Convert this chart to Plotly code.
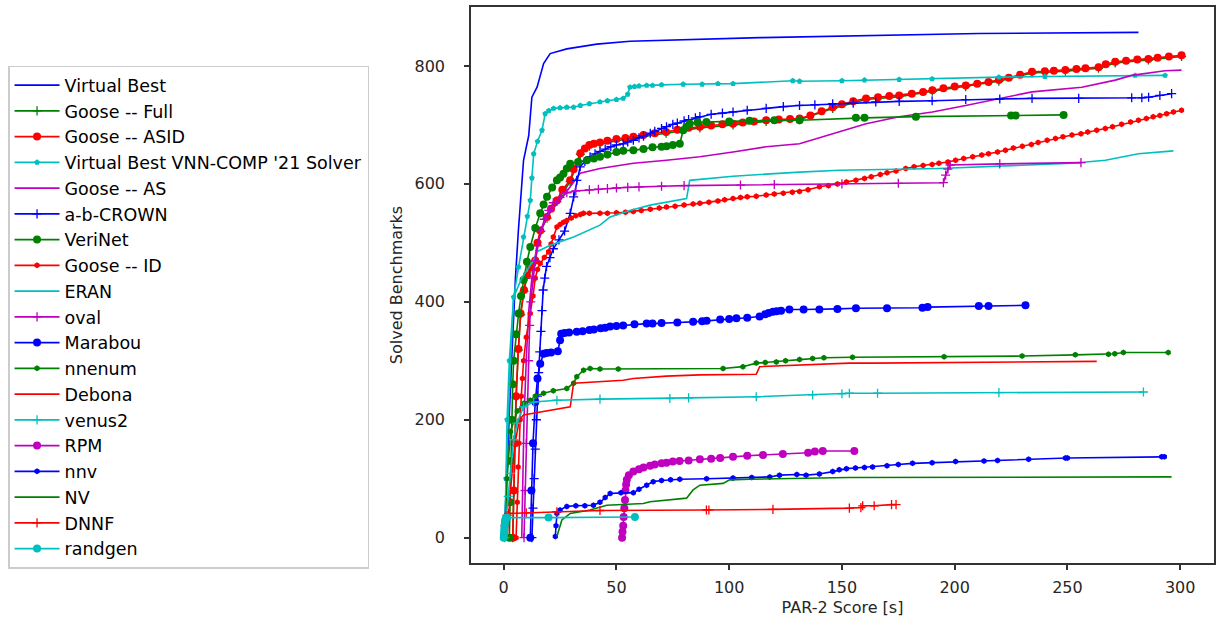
import plotly.graph_objects as go

# ---------------- data ----------------
vb_x = [0.2, 0.8, 1.5, 2.5, 3.5, 4.5, 5.2, 6.5, 7.4, 8.8, 11.1, 12.5, 14.8, 17.7, 20.6, 28.0, 41.3, 56.0, 113.5, 174.0, 210.7, 281.5]
vb_y = [0, 60, 130, 220, 300, 380, 440, 520, 572, 640, 682, 747, 764, 804, 821, 829, 837, 842, 848, 852, 855, 857]

gasid_x = [4, 4.5, 5, 5.5, 6.5, 7.5, 9, 10.3, 12, 14, 15, 16.2, 19.2, 21, 23.6, 26, 29.5, 31, 34, 36, 38, 40, 42.7, 46, 50, 54, 57.5, 62, 67, 72, 77, 82, 87, 92, 97, 101.7, 106, 111, 116.4, 122, 127, 131.2, 136, 141, 145.9, 150, 155, 160.7, 166, 171, 175.4, 181, 186, 190.1, 195, 200, 204.9, 210, 215, 219.6, 224, 229, 234.3, 240, 244, 249.1, 254, 258, 263.8, 267, 271.2, 276, 281, 285.9, 290, 295, 300.6]
gasid_y = [0, 80, 160, 240, 320, 380, 420, 445, 458, 470, 500, 521, 544, 558, 572, 590, 606, 625, 652, 660, 666, 668, 670, 673, 676, 678, 680, 683, 686, 688, 692, 695, 697, 699, 701, 702, 704, 706, 708, 709, 710, 711, 716, 723, 730, 735, 740, 745, 747, 749, 750, 753, 756, 759, 762, 765, 767, 770, 773, 776, 780, 785, 790, 791, 792, 793, 795, 796, 798, 803, 807, 809, 811, 812, 814, 816, 818]

gfull_x = [4, 4.5, 5, 5.5, 6.5, 7.5, 9, 10.3, 12, 14, 16.2, 19.2, 23.6, 29.5, 34, 38, 42.7, 57.5, 72, 87, 101.7, 116.4, 131.2, 145.9, 160.7, 175.4, 190.1, 204.9, 219.6, 234.3, 249.1, 263.8, 271.2, 285.9, 300.6]
gfull_y = [0, 78, 158, 238, 318, 378, 418, 443, 456, 468, 519, 542, 570, 604, 650, 664, 668, 678, 686, 695, 700, 706, 709, 728, 743, 748, 757, 765, 774, 788, 791, 796, 805, 810, 816]

vnn_x = [0.5, 1.0, 1.5, 2.5, 4.4, 6.6, 8.8, 10.5, 11.8, 12.5, 13.3, 15, 17, 18.4, 20, 22.1, 25, 28, 31, 34, 38, 42.7, 46, 50, 53, 55, 56, 58, 60, 63.4, 66, 70, 79.6, 88, 95, 101.7, 128.2, 131.2, 150, 160, 175.4, 190, 219.6, 240, 280, 293.3]
vnn_y = [0, 100, 200, 300, 408, 459, 510, 545, 572, 610, 651, 672, 691, 719, 724, 728, 729, 730, 730, 733, 736, 739, 741, 743, 745, 752, 764, 765, 766, 767, 767, 768, 769, 769, 770, 770, 775, 774, 775, 776, 777, 778, 781, 782, 784, 784]

gas_x = [8, 8.5, 9, 10, 11, 12.5, 14.5, 17, 20, 25, 29.5, 33.9, 42.7, 57.5, 72.2, 87, 101.7, 116.4, 131.2, 145.9, 160.7, 175.4, 190.1, 204.9, 219.6, 234.3, 256.4, 271.2, 278.5, 293.3, 300.6]
gas_y = [0, 100, 200, 300, 380, 440, 490, 525, 550, 572, 595, 618, 626, 635, 640, 646, 654, 663, 668, 685, 702, 714, 722, 733, 745, 756, 764, 776, 784, 792, 793]

abc_x = [12.5, 13.0, 13.5, 14.0, 14.5, 15.0, 15.5, 16.0, 16.5, 17.0, 17.5, 18.2, 19.0, 20.5, 22.0, 24.5, 27.0, 29.5, 31.0, 32.4, 33.9, 36, 38.3, 40.5, 42.7, 45, 47.5, 50, 53, 55, 57.5, 60, 62, 65, 67, 70, 72.2, 75, 77, 80, 82, 85, 87, 92, 97, 101.7, 108, 116.4, 124, 131.2, 138, 145.9, 155, 165, 175.4, 190, 204.9, 220, 234.3, 255, 278.5, 283, 286, 291, 296.2]
abc_y = [0, 50, 100, 150, 200, 240, 280, 315, 350, 385, 420, 440, 460, 475, 490, 505, 520, 550, 578, 606, 629, 638, 646, 651, 655, 659, 663, 666, 668, 671, 674, 678, 681, 686, 689, 694, 697, 701, 703, 707, 709, 712, 714, 718, 720, 722, 725, 728, 731, 733, 734, 736, 737, 739, 740, 741, 743, 744, 745, 745, 746, 746, 747, 750, 753]

verinet_x = [2.5, 2.8, 3.1, 3.5, 4.0, 4.4, 5.5, 6.6, 7.7, 8.8, 10.3, 11.8, 14, 16.2, 17.7, 19.2, 21.5, 23.6, 25, 26.5, 28, 29.5, 33, 36.9, 40, 42.7, 46, 50, 53, 57.5, 62, 66, 70, 72.2, 75, 78.1, 79.6, 81, 82.5, 86, 89.9, 100, 109, 120, 131.2, 156.2, 160, 182.8, 225, 227, 248.3]
verinet_y = [0, 60, 130, 200, 260, 300, 345, 380, 410, 437, 468, 493, 525, 550, 565, 578, 594, 606, 611, 617, 626, 634, 637, 640, 643, 646, 650, 654, 656, 657, 659, 662, 663, 664, 666, 668, 691, 697, 702, 704, 705, 706, 707, 708, 708, 712, 712, 714, 716, 716, 717]

gid_x = [5.5, 6.0, 6.4, 6.8, 7.3, 7.8, 8.3, 8.8, 10, 11.8, 13, 14, 15, 16.2, 18, 19.9, 21, 22, 23.6, 25, 26.5, 28, 30, 32, 34, 35.4, 38, 42.7, 46, 50, 54, 57.5, 61, 65, 69, 72.2, 76, 80, 84, 87, 91, 95, 98, 101.7, 105, 108, 112, 116.4, 120, 124, 128, 131.2, 135, 140, 144, 148, 152, 156.2, 160, 163, 167, 170, 174, 178.3, 182, 186, 190, 193, 197, 200.4, 204, 208, 212, 215, 219, 222.5, 226, 230, 234, 237, 241, 244.7, 248, 252, 256, 259, 263, 266.8, 270, 274, 278, 281.5, 285, 288, 291, 294, 297, 300.6]
gid_y = [0, 60, 120, 160, 200, 240, 270, 300, 340, 380, 410, 440, 455, 465, 475, 485, 498, 510, 527, 531, 535, 538, 542, 546, 548, 550, 550, 550, 550, 551, 552, 553, 555, 557, 559, 561, 562, 564, 566, 567, 569, 571, 573, 575, 577, 578, 579, 581, 583, 584, 586, 587, 590, 595, 597, 600, 603, 606, 609, 612, 616, 619, 622, 626, 629, 631, 633, 635, 637, 640, 643, 646, 649, 651, 654, 657, 661, 664, 667, 670, 674, 677, 680, 683, 685, 688, 691, 694, 697, 701, 705, 708, 711, 714, 716, 719, 722, 725]

eran_x = [0.5, 1.5, 3.0, 4.4, 8.0, 13.3, 14.8, 20.6, 31.0, 42.7, 47.2, 56.0, 64.9, 81.1, 82.5, 101.7, 131.2, 148.8, 193.0, 252.0, 266.8, 281.5, 297.0]
eran_y = [0, 150, 300, 408, 440, 471, 485, 496, 510, 530, 544, 555, 564, 575, 606, 613, 620, 623, 626, 635, 640, 651, 656]

oval_x = [9.0, 9.5, 10.0, 10.5, 11.0, 11.5, 12.0, 13.0, 14.0, 15.0, 16.5, 18.0, 20.0, 22.0, 25.0, 28.0, 32.0, 38.0, 42.0, 46.0, 50.0, 55.0, 60.0, 70.0, 80.0, 105.0, 120.0, 150.0, 175.0, 195.0, 196.0, 197.0, 198.0, 220.0, 256.0]
oval_y = [0, 80, 160, 230, 300, 360, 400, 440, 470, 495, 520, 540, 555, 568, 577, 585, 588, 590, 591, 592, 593, 594, 595, 596, 597, 598, 599, 600, 601, 602, 615, 625, 632, 634, 636]

marabou_x = [11.8, 12.3, 13.0, 14.0, 15.0, 16.2, 17.7, 19.0, 21.0, 24.0, 25.0, 25.5, 27.0, 29.0, 32.4, 35.0, 38.0, 40.0, 43.0, 45.0, 47.2, 50.0, 53.0, 58.0, 63.4, 66.0, 70.0, 77.0, 84.0, 88.0, 90.0, 96.0, 100.0, 103.2, 108.0, 113.5, 116.0, 117.5, 119.4, 121.0, 123.0, 126.7, 133.0, 140.0, 148.0, 156.2, 170.0, 185.7, 188.0, 210.7, 215.0, 231.4]
marabou_y = [0, 80, 160, 230, 270, 295, 312, 313, 314, 316, 335, 346, 347, 348, 349, 350, 352, 353, 355, 356, 358, 359, 360, 362, 363, 363, 364, 365, 366, 367, 368, 370, 371, 372, 373, 375, 379, 381, 383, 384, 385, 387, 387, 387, 388, 389, 389, 390, 391, 393, 393, 394]

nnenum_x = [0.8, 1.5, 3.0, 6.0, 9.0, 11.8, 14.0, 17.7, 22.0, 28.0, 31.0, 32.4, 35.4, 38.3, 42.7, 50.8, 97.3, 106.1, 112.0, 116.0, 120.9, 125.0, 131.2, 137.0, 142.0, 154.7, 195.3, 229.9, 253.5, 268.2, 271.0, 274.8, 294.7]
nnenum_y = [0, 100, 180, 215, 228, 233, 240, 245, 249, 253, 262, 273, 284, 287, 286, 286, 287, 290, 296, 297, 298, 300, 302, 304, 305, 306, 307, 308, 310, 311, 312, 314, 314]

debona_x = [1.5, 3.0, 5.0, 7.0, 8.8, 16.2, 29.5, 31.0, 38.3, 53.0, 57.5, 72.2, 87.0, 112.0, 113.5, 131.2, 153.3, 163.6, 215.2, 263.0]
debona_y = [0, 80, 160, 200, 208, 213, 222, 262, 264, 267, 270, 274, 276, 277, 290, 293, 296, 296, 297, 299]

venus_x = [0.5, 1.0, 2.0, 3.0, 4.4, 5.9, 8.8, 13.3, 23.6, 42.7, 73.7, 82.0, 112.0, 137.0, 150.0, 153.3, 165.8, 219.6, 283.7]
venus_y = [0, 30, 70, 109, 166, 194, 222, 230, 233, 235, 236, 237, 239, 242, 244, 245, 245, 246, 247]

rpm_x = [52.5, 52.7, 53.0, 53.2, 53.5, 53.8, 54.0, 54.3, 54.6, 55.5, 57.5, 60.0, 62.0, 64.9, 67.0, 70.0, 72.2, 75.0, 78.0, 82.0, 87.0, 92.0, 96.0, 101.7, 108.0, 115.0, 123.8, 135.0, 138.0, 141.5, 155.5]
rpm_y = [0, 10, 20, 35, 50, 64, 80, 90, 98, 106, 112, 116, 119, 122, 124, 126, 127, 129, 130, 131, 133, 134, 135, 137, 139, 140, 142, 144, 146, 147, 147]

nnv_x = [22.9, 23.2, 23.6, 25.0, 28.0, 32.0, 36.0, 39.8, 42.7, 45.0, 47.2, 52.0, 57.5, 60.0, 63.4, 66.3, 70.0, 74.0, 78.1, 90.0, 101.7, 110.0, 118.0, 122.3, 130.0, 134.1, 140.0, 145.9, 148.8, 152.0, 156.0, 160.0, 163.6, 170.0, 175.0, 181.3, 190.0, 200.4, 213.0, 219.0, 232.8, 249.1, 250.0, 291.8, 293.0]
nnv_y = [2, 20, 41, 47, 53, 54, 54, 55, 60, 68, 75, 76, 76, 82, 89, 95, 97, 98, 99, 100, 101, 102, 103, 106, 107, 106, 108, 112, 115, 117, 118, 119, 120, 122, 124, 126, 127, 129, 130, 131, 133, 135, 135, 137, 137]

nv_x = [23.6, 24.5, 25.8, 29.5, 38.3, 45.7, 61.9, 64.9, 81.1, 84.0, 87.0, 97.3, 100.2, 109.1, 153.3, 296.2]
nv_y = [2, 15, 30, 41, 47, 55, 58, 61, 67, 81, 89, 92, 98, 99, 102, 103]

dnnf_x = [0.5, 1.5, 2.2, 10.0, 23.6, 42.7, 89.9, 91.0, 119.4, 153.3, 158.4, 159.2, 164.3, 172.0, 174.0]
dnnf_y = [20, 38, 41, 42, 44, 46, 47, 47, 48, 50, 51, 54, 54, 56, 56]

randgen_x = [0.0, 0.1, 0.2, 0.3, 0.4, 0.5, 0.6, 0.8, 1.0, 1.5, 19.9, 58.2]
randgen_y = [0, 5, 10, 15, 20, 24, 28, 31, 33, 34, 34, 35]

# ---------------- styling ----------------
B, G, R, C, M = "#0000ff", "#008000", "#ff0000", "#00bfbf", "#bf00bf"

series = [
    ("Virtual Best", vb_x, vb_y, B, None),
    ("Goose -- Full", gfull_x, gfull_y, G, "cross-thin"),
    ("Goose -- ASID", gasid_x, gasid_y, R, "circle"),
    ("Virtual Best VNN-COMP '21 Solver", vnn_x, vnn_y, C, "pentagon"),
    ("Goose -- AS", gas_x, gas_y, M, None),
    ("a-b-CROWN", abc_x, abc_y, B, "cross-thin"),
    ("VeriNet", verinet_x, verinet_y, G, "circle"),
    ("Goose -- ID", gid_x, gid_y, R, "hexagon"),
    ("ERAN", eran_x, eran_y, C, None),
    ("oval", oval_x, oval_y, M, "cross-thin"),
    ("Marabou", marabou_x, marabou_y, B, "circle"),
    ("nnenum", nnenum_x, nnenum_y, G, "hexagon"),
    ("Debona", debona_x, debona_y, R, None),
    ("venus2", venus_x, venus_y, C, "cross-thin"),
    ("RPM", rpm_x, rpm_y, M, "circle"),
    ("nnv", nnv_x, nnv_y, B, "hexagon"),
    ("NV", nv_x, nv_y, G, None),
    ("DNNF", dnnf_x, dnnf_y, R, "cross-thin"),
    ("randgen", randgen_x, randgen_y, C, "circle"),
]

fig = go.Figure()
for name, xs, ys, col, sym in series:
    if sym is None:
        fig.add_trace(go.Scatter(x=xs, y=ys, name=name, mode="lines",
                                 line=dict(color=col, width=1.6)))
    else:
        if sym == "circle":
            mk = dict(symbol="circle", size=8, color=col, line=dict(width=0))
        elif sym == "cross-thin":
            mk = dict(symbol="cross-thin", size=6.5, color=col, line=dict(width=1.3, color=col))
        else:
            mk = dict(symbol=sym, size=6, color=col, line=dict(width=0))
        fig.add_trace(go.Scatter(x=xs, y=ys, name=name, mode="lines+markers",
                                 line=dict(color=col, width=1.6), marker=mk))

axis_common = dict(showline=True, mirror=True, linecolor="#333333", linewidth=1.5,
                   ticks="outside", ticklen=5, tickwidth=1.5, tickcolor="#333333",
                   showgrid=False, zeroline=False,
                   tickfont=dict(family="DejaVu Sans", size=16, color="#262626"),
                   title_font=dict(family="DejaVu Sans", size=16, color="#262626"))

fig.update_xaxes(range=[-14.5, 315], tickvals=[0, 50, 100, 150, 200, 250, 300],
                 title_text="PAR-2 Score [s]", title_standoff=6, ticklabelstandoff=4,
                 **axis_common)
fig.update_yaxes(range=[-43, 900], tickvals=[0, 200, 400, 600, 800],
                 title_text="Solved Benchmarks", title_standoff=8, ticklabelstandoff=16,
                 **axis_common)

fig.update_layout(
    width=1219, height=626,
    margin=dict(l=471, r=3, t=7, b=63),
    paper_bgcolor="white", plot_bgcolor="white",
    font=dict(family="DejaVu Sans", size=16, color="#000000"),
    legend=dict(xref="container", yref="container", x=0.0066, y=0.895,
                xanchor="left", yanchor="top", maxheight=560,
                bgcolor="white", bordercolor="#cccccc", borderwidth=1.5,
                font=dict(family="DejaVu Sans", size=17.5, color="#000000"),
                itemwidth=45, tracegroupgap=0),
)

fig.write_html("out.html")
